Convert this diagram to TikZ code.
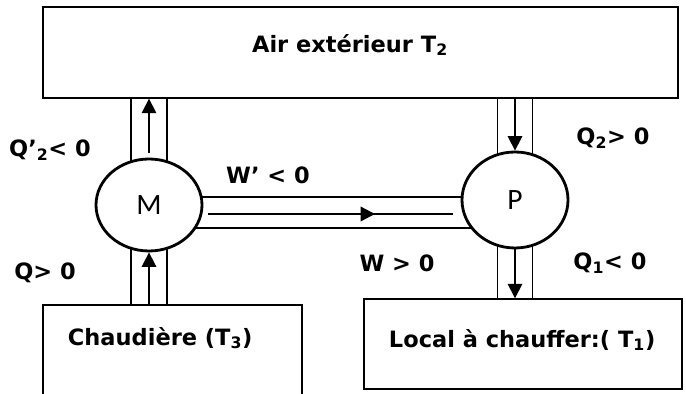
\documentclass[tikz,border=0pt]{standalone}
\usepackage{fontspec}
\setmainfont{DejaVu Sans}
\newfontfamily\machfont{Carlito}
\usetikzlibrary{arrows.meta,shapes.geometric,backgrounds,calc}

\tikzset{
  reservoir/.style={draw,line width=1pt,inner sep=0pt},
  machine/.style={ellipse,draw,line width=2pt,fill=white,inner sep=0pt,font=\machfont\fontsize{21}{24}\selectfont},
  lab/.style={font=\bfseries\fontsize{16}{19}\selectfont},
  pipe/.style={line width=0.8pt},
  flow/.style={line width=1.2pt,-{Triangle[length=3.6mm,width=3.6mm]}},
}

\begin{document}
\begin{tikzpicture}
  \useasboundingbox (0,0) rectangle (17.15,9.85);
  % reservoirs
  \node[reservoir,minimum width=15.875cm,minimum height=2.275cm] (air) at (9.0125,8.5375) {};
  \node[reservoir,minimum width=6.475cm,minimum height=2.725cm] (chaud) at (4.3125,0.8625) {};
  \node[reservoir,minimum width=7.95cm,minimum height=2.25cm] (local) at (13.075,1.25) {};
  \node[lab] (airtxt) at (8.75,8.725) {Air extérieur T\textsubscript{2}};
  \node[lab,anchor=west] (chaudtxt) at (1.575,1.4) {Chaudière (T\textsubscript{3})};
  \node[lab,anchor=west] (localtxt) at (9.6,1.35) {Local à chauffer:( T\textsubscript{1})};
  % engine and pump
  \node[machine,minimum width=2.65cm,minimum height=2.3cm] (M) at (3.725,4.725) {M};
  \node[machine,minimum width=2.65cm,minimum height=2.4cm] (P) at (12.875,4.85) {P};
  \coordinate (wtop) at (0,4.925);
  \coordinate (wmid) at (0,4.5);
  \coordinate (wbot) at (0,4.15);
  \coordinate (wa) at (6.45,4.5);
  \coordinate (wb) at (9.375,4.5);
  \begin{scope}[on background layer]
    \foreach \dx in {-0.45,0.45}{
      \draw[pipe] ($(M.center |- air.south)+(\dx,0)$) -- ($(M.center |- chaud.north)+(\dx,0)$);}
    \foreach \dx in {-0.44,0.44}{
      \draw[pipe] ($(P.center |- air.south)+(\dx,0)$) -- ($(P.center |- local.north)+(\dx,0)$);}
    \draw[pipe] (M |- wtop) -- (P |- wtop);
    \draw[pipe] (M |- wbot) -- (P |- wbot);
  \end{scope}
  \draw[pipe] ($(M.east |- wmid)+(0.12,0)$) -- ($(P.west |- wmid)+(-0.2,0)$);
  \draw[flow,line width=1.6pt] (wa) -- (wb);
  % heat flows
  \draw[flow] ([yshift=0.12cm]M.north) -- (M.north |- air.south);
  \draw[flow] (M.south |- chaud.north) -- (M.south);
  \draw[flow] (P.north |- air.south) -- (P.north);
  \draw[flow] (P.south) -- (P.south |- local.north);
  % labels
  \node[lab] (qm2) at (1.25,6.1) {Q’\textsubscript{2}< 0};
  \node[lab] (qp2) at (15.325,6.4) {Q\textsubscript{2}> 0};
  \node[lab] (wm) at (6.7,5.475) {W’ < 0};
  \node[lab] (qm) at (1.125,3.025) {Q> 0};
  \node[lab] (wp) at (9.925,3.275) {W > 0};
  \node[lab] (qp1) at (15.25,3.275) {Q\textsubscript{1}< 0};
\end{tikzpicture}
\end{document}
